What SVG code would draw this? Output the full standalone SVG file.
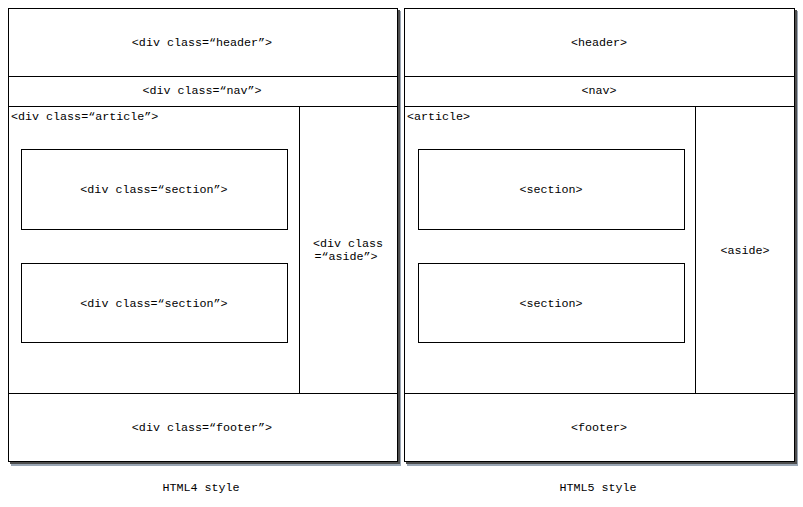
<svg xmlns="http://www.w3.org/2000/svg" width="803" height="507" viewBox="0 0 803 507">
<style>
.box{fill:#fff;stroke:#000;stroke-width:1}
.ln{stroke:#000;stroke-width:1;fill:none}
.sh1{fill:#9aa6b4}
.sh2{fill:#4d4d4d}
text{font-family:"Liberation Mono","Noto Sans CJK SC",monospace;font-size:11.7px;fill:#000;dominant-baseline:central}
.c{text-anchor:middle}
</style>
<rect width="803" height="507" fill="#fff"/>
<g id="panel-html4">
<rect class="sh1" x="11" y="11" width="390" height="455"/>
<rect class="sh2" x="10" y="10" width="390" height="454"/>
<rect class="box" x="8.5" y="8.5" width="389" height="453"/>
<g id="h4-header"><text class="c" x="202" y="43">&lt;div class=“header”&gt;</text></g>
<g id="h4-nav"><line class="ln" x1="8.5" y1="76.5" x2="397.5" y2="76.5"/><text class="c" x="202" y="91">&lt;div class=“nav”&gt;</text></g>
<g id="h4-article"><line class="ln" x1="8.5" y1="106.5" x2="397.5" y2="106.5"/><text x="11" y="117">&lt;div class=“article”&gt;</text></g>
<g id="h4-section1"><rect class="box" x="21.5" y="149.5" width="266" height="80"/><text class="c" x="154" y="190">&lt;div class=“section”&gt;</text></g>
<g id="h4-section2"><rect class="box" x="21.5" y="263.5" width="266" height="79"/><text class="c" x="154" y="304">&lt;div class=“section”&gt;</text></g>
<g id="h4-aside"><line class="ln" x1="299.5" y1="106.5" x2="299.5" y2="393.5"/><text class="c" x="348" y="244">&lt;div class</text><text class="c" x="346" y="257">=“aside”&gt;</text></g>
<g id="h4-footer"><line class="ln" x1="8.5" y1="393.5" x2="397.5" y2="393.5"/><text class="c" x="202" y="428">&lt;div class=“footer”&gt;</text></g>
<g id="h4-caption"><text class="c" x="201" y="488">HTML4 style</text></g>
</g>
<g id="panel-html5">
<rect class="sh1" x="407" y="11" width="391" height="455"/>
<rect class="sh2" x="406" y="10" width="391" height="454"/>
<rect class="box" x="404.5" y="8.5" width="390" height="453"/>
<g id="h5-header"><text class="c" x="599" y="43">&lt;header&gt;</text></g>
<g id="h5-nav"><line class="ln" x1="404.5" y1="76.5" x2="794.5" y2="76.5"/><text class="c" x="599" y="91">&lt;nav&gt;</text></g>
<g id="h5-article"><line class="ln" x1="404.5" y1="106.5" x2="794.5" y2="106.5"/><text x="407" y="117">&lt;article&gt;</text></g>
<g id="h5-section1"><rect class="box" x="418.5" y="149.5" width="266" height="80"/><text class="c" x="551" y="190">&lt;section&gt;</text></g>
<g id="h5-section2"><rect class="box" x="418.5" y="263.5" width="266" height="79"/><text class="c" x="551" y="304">&lt;section&gt;</text></g>
<g id="h5-aside"><line class="ln" x1="695.5" y1="106.5" x2="695.5" y2="393.5"/><text class="c" x="745" y="251">&lt;aside&gt;</text></g>
<g id="h5-footer"><line class="ln" x1="404.5" y1="393.5" x2="794.5" y2="393.5"/><text class="c" x="599" y="428">&lt;footer&gt;</text></g>
<g id="h5-caption"><text class="c" x="598" y="488">HTML5 style</text></g>
</g>
<g id="connectors"></g>
</svg>
